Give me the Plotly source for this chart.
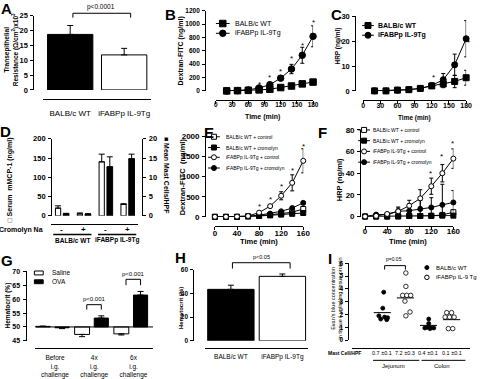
import plotly.graph_objects as go

W, H = 480, 379
FONT = "Liberation Sans, Arial, sans-serif"

# ---------------- data ----------------
# A
A_groups = ["BALB/c WT", "iFABPp IL-9Tg"]
A_values = [18.7, 11.8]
A_errors = [3.0, 2.2]

# B
B_time = [20, 40, 60, 80, 100, 120, 140, 160, 180]
B_wt = [0, 3, 8, 15, 25, 50, 73, 105, 132]
B_wt_err = [0, 0, 0, 0, 4, 8, 12, 15, 25]
B_tg = [0, 5, 15, 44, 93, 191, 328, 534, 818]
B_tg_err = [0, 0, 4, 8, 20, 25, 70, 120, 157]
B_star_x = [80, 100, 120, 140, 160, 180]
B_star_y = [132, 230, 328, 524, 720, 1063]

# C
C_time = [20, 40, 60, 80, 100, 120, 140, 160, 180]
C_wt = [0, 0, 0.3, 0.5, 1.0, 2.0, 2.8, 3.8, 5.3]
C_wt_err = [0, 0, 0.1, 0.2, 0.3, 0.6, 1.5, 2.5, 3.0]
C_tg = [0, 0, 0.3, 0.5, 1.0, 2.2, 4.5, 10.5, 21.0]
C_tg_err = [0, 0, 0.1, 0.2, 0.3, 0.6, 2.5, 4.3, 7.3]
C_star_x = [123, 163, 184]
C_star_y = [6.2, 11.7, 20.6]

# D
D_ticks = ["-", "+", "-", "+"]
D_mmcp1 = [20, 5, 140, 29.5]
D_mmcp1_err = [6, 2.5, 20, 2]
D_mast = [0.55, 0.45, 12.7, 14.8]
D_mast_err = [0.1, 0.1, 2.6, 1.2]

# E
E_time = [0, 20, 40, 60, 80, 100, 120, 140, 160]
E_wt_ctrl = [0, 0, 0, 10, 25, 45, 80, 115, 195]
E_wt_ctrl_err = [0, 0, 0, 3, 5, 10, 15, 20, 30]
E_wt_crom = [0, 0, 0, 10, 20, 35, 55, 75, 95]
E_wt_crom_err = [0, 0, 0, 3, 5, 8, 10, 12, 15]
E_tg_ctrl = [0, 0, 5, 20, 105, 266, 524, 846, 1394]
E_tg_ctrl_err = [0, 0, 2, 5, 20, 40, 100, 200, 300]
E_tg_crom = [0, 0, 0, 15, 40, 80, 137, 218, 347]
E_tg_crom_err = [0, 0, 0, 5, 10, 15, 20, 30, 40]
E_star_x = [80, 100, 120, 140, 160]
E_star_y = [322, 500, 806, 1209, 1813]

# F
F_time = [0, 20, 40, 60, 80, 100, 120, 140, 160]
F_wt_ctrl = [0, 0, 0, 0, 0.5, 0.5, 0.5, 1.5, 4.0]
F_wt_ctrl_err = [0, 0, 0, 0, 0.3, 0.3, 0.5, 2.0, 2.5]
F_wt_crom = [0, 0, 0, 0.3, 0.5, 0.5, 0.8, 0.8, 0.8]
F_wt_crom_err = [0, 0, 0, 0.2, 0.3, 0.3, 0.4, 0.4, 0.4]
F_tg_ctrl = [0, 0.6, 2.4, 4.8, 10.0, 16.8, 28.0, 40.0, 53.5]
F_tg_ctrl_err = [0, 0.3, 1.0, 3.0, 5.0, 8.0, 7.5, 8.0, 9.0]
F_tg_crom = [0, 1.8, 1.8, 4.8, 5.4, 6.9, 8.4, 10.8, 13.0]
F_tg_crom_err = [0, 0.5, 1.0, 4.0, 6.0, 8.0, 9.0, 19.0, 11.0]
F_star_x = [118.5, 138, 159]
F_star_y = [41.5, 58, 70]

# G
G_groups = ["Before<br>i.g.<br>challenge", "4x<br>i.g.<br>challenge", "6x<br>i.g.<br>challenge"]
G_saline = [50.2, 47.3, 47.5]
G_saline_err = [0.1, 0.8, 0.4]
G_ova = [49.7, 53.2, 61.5]
G_ova_err = [0.3, 0.8, 1.3]
G_base = 50

# H
H_groups = ["BALB/c WT", "iFABPp IL-9Tg"]
H_values = [43.5, 54.5]
H_errors = [3.5, 2.0]

# I
I_mast_labels = ["0.7 \u00b10.1", "7.2 \u00b10.3", "0.4 \u00b10.1", "0.1 \u00b10.1"]
I_wt_jej = [3.75, 2.5, 1.9, 1.8, 1.75, 1.65, 1.6]
I_wt_jej_dx = [0.06, 0.02, -0.15, 0.1, 0.23, -0.07, 0.19]
I_tg_jej = [5.25, 4.2, 3.5, 3.5, 3.5, 3.05, 2.2, 1.9]
I_tg_jej_dx = [0.02, 0.02, -0.12, 0.06, 0.23, -0.02, 0.2, 0.02]
I_wt_col = [1.65, 1.3, 1.0, 0.95, 0.95, 0.95, 0.9]
I_wt_col_dx = [0.01, 0.01, -0.07, 0.1, 0.23, -0.16, 0.06]
I_tg_col = [2.15, 2.15, 1.8, 1.8, 1.8, 0.9, 0.9]
I_tg_col_dx = [-0.21, 0.0, -0.28, -0.09, 0.11, -0.14, 0.05]
I_medians = [2.15, 3.3, 1.15, 1.6]

# ---------------- geometry (pixels) ----------------
GEO = {
    'A': dict(xn=1, yn=1, x=(42, 152), xr=(-0.5, 1.5), y=(88, 12), yr=(0, 25), yx=32, xl=97, so=7),
    'B': dict(xn=2, yn=2, x=(218, 317), xr=(0, 180), y=(89, 7), yr=(0, 1200), yx=207, xl=98, so=-4),
    'C': dict(xn=3, yn=3, x=(368, 473), xr=(0, 180), y=(89, 12.7), yr=(0, 30), yx=360, xl=98, so=-4),
    'D': dict(xn=4, yn=4, x=(50, 139), xr=(-0.5, 3.5), y=(217, 138), yr=(0, 200), yx=50, xl=225, so=0),
    'E': dict(xn=5, yn=6, x=(217, 307), xr=(0, 160), y=(218, 135.7), yr=(0, 2000), yx=207, xl=227, so=-3),
    'F': dict(xn=6, yn=7, x=(370, 460), xr=(0, 160), y=(217.7, 129), yr=(0, 80), yx=365, xl=227, so=-5),
    'G': dict(xn=7, yn=8, x=(34, 154), xr=(-0.5, 2.5), y=(345, 274), yr=(45, 70), yx=24, xl=352, so=4),
    'H': dict(xn=8, yn=9, x=(207, 312), xr=(-0.5, 1.5), y=(345, 272.3), yr=(0, 60), yx=195, xl=352, so=3),
    'I': dict(xn=9, yn=10, x=(357, 477), xr=(-1.3, 3.8), y=(344.3, 265.7), yr=(0, 6), yx=353, xl=352, so=0),
}


def PX(x):
    return x / W


def PY(y):
    return 1 - y / H


def mapx(p, v):
    g = GEO[p]
    return g['x'][0] + (v - g['xr'][0]) / (g['xr'][1] - g['xr'][0]) * (g['x'][1] - g['x'][0])


def mapy(p, v):
    g = GEO[p]
    return g['y'][0] - (v - g['yr'][0]) / (g['yr'][1] - g['yr'][0]) * (g['y'][0] - g['y'][1])


def aname(kind, n):
    return kind + 'axis' + ('' if n == 1 else str(n))


def ref(kind, n):
    return kind + ('' if n == 1 else str(n))


layout = {}
annotations = []
shapes = []
traces = []


def tfont(size, bold=False):
    return dict(family=FONT, size=size, color='black', weight='bold' if bold else 'normal')


def set_axes(p, xsize=7, ysize=7, ydtick=None, xdtick=None, xticks='outside', xbold=True, **xkw):
    g = GEO[p]
    layout[aname('y', g['yn'])] = dict(
        domain=[PY(g['y'][0]), PY(g['y'][1])], range=list(g['yr']), anchor='free', position=PX(g['yx']),
        showline=True, linecolor='black', linewidth=1, ticks='outside', ticklen=3, tickwidth=1,
        tickcolor='black', showgrid=False, zeroline=False, tickfont=tfont(ysize, True), dtick=ydtick,
        tick0=g['yr'][0], fixedrange=True, ticklabelstandoff=1)
    xd = dict(
        domain=[PX(g['x'][0]), PX(g['x'][1])], range=list(g['xr']), anchor='free', position=PY(g['xl']),
        showline=True, linecolor='black', linewidth=1, ticks=xticks, ticklen=3, tickwidth=1,
        tickcolor='black', showgrid=False, zeroline=False, tickfont=tfont(xsize, xbold), fixedrange=True,
        ticklabelstandoff=g['so'])
    if xdtick is not None:
        xd['dtick'] = xdtick
        xd['tick0'] = 0
    xd.update(xkw)
    layout[aname('x', g['xn'])] = xd


def txt(x, y, s, size=7, angle=0, xanchor='center', bold=False):
    annotations.append(dict(x=PX(x), y=PY(y), xref='paper', yref='paper', text=s, showarrow=False,
                            font=tfont(size, bold), textangle=angle, xanchor=xanchor, yanchor='middle',
                            borderpad=0))


def seg(x0, y0, x1, y1, w=1):
    shapes.append(dict(type='line', xref='paper', yref='paper', x0=PX(x0), y0=PY(y0), x1=PX(x1), y1=PY(y1),
                       line=dict(color='black', width=w)))


def bracket(x0, x1, ytop, yleg):
    shapes.append(dict(type='path', xref='paper', yref='paper',
                       path=f"M {PX(x0)},{PY(yleg)} L {PX(x0)},{PY(ytop)} L {PX(x1)},{PY(ytop)} L {PX(x1)},{PY(yleg)}",
                       line=dict(color='black', width=1)))


def star(p, xv, yv, size=8):
    txt(mapx(p, xv), mapy(p, yv) + 0.3 * size, '*', size)


def on(p, second_y=None):
    g = GEO[p]
    return dict(xaxis=ref('x', g['xn']), yaxis=ref('y', second_y or g['yn']))


def series(p, x, y, err, symbol, filled, size=6):
    traces.append(go.Scatter(
        x=x, y=y, mode='lines+markers', cliponaxis=False,
        marker=dict(symbol=symbol, size=size, color='black' if filled else 'white',
                    line=dict(color='black', width=1)),
        line=dict(color='black', width=1),
        error_y=dict(type='data', array=err, color='black', thickness=1, width=2),
        **on(p)))


# legend sample canvas (pixel overlay)
LX, LY = 10, 11


def leg_sample(x0, x1, y, symbol, filled, size=6, line=True):
    xm = (x0 + x1) / 2
    if line:
        traces.append(go.Scatter(x=[x0, x1], y=[y, y], mode='lines', line=dict(color='black', width=1),
                                 xaxis=ref('x', LX), yaxis=ref('y', LY)))
    traces.append(go.Scatter(x=[xm], y=[y], mode='markers',
                             marker=dict(symbol=symbol, size=size, color='black' if filled else 'white',
                                         line=dict(color='black', width=1)),
                             xaxis=ref('x', LX), yaxis=ref('y', LY)))


def bars(p, x, y, err_plus, err_minus, fill, offset, width, base=None, second_y=None):
    traces.append(go.Bar(
        x=x, y=y, base=base, offset=offset, width=width,
        marker=dict(color=fill, line=dict(color='black', width=1)),
        error_y=dict(type='data', symmetric=False, array=err_plus, arrayminus=err_minus,
                     color='black', thickness=1, width=3),
        **on(p, second_y)))


zeros = lambda n: [0] * n

# ---------------- panel A ----------------
set_axes('A', xsize=8, ysize=7.5, ydtick=5, xticks='', xbold=False, tickvals=[0, 1], ticktext=A_groups)
bars('A', [0, 1], A_values, A_errors, zeros(2), ['black', 'white'], -0.42, 0.84)
bracket(mapx('A', 0.05), mapx('A', 1.12), 9.5, 14)
txt(mapx('A', 0.58), 3.5, 'p<0.0001', 6.5)
txt(9.5, 47, 'Transepithelial<br>Resistance (\u03a9/cm<sup>2</sup>)x10<sup>3</sup>', 6.5, -90, bold=True)
txt(5, 5, 'A', 15, bold=True)

# ---------------- panel B ----------------
set_axes('B', xsize=6.5, ysize=6.5, ydtick=200, xdtick=30)
series('B', B_time, B_wt, B_wt_err, 'square', True, 6.5)
series('B', B_time, B_tg, B_tg_err, 'circle', True, 6.5)
for xs, ys in zip(B_star_x, B_star_y):
    star('B', xs, ys)
txt(182, 48, 'Dextran-FITC (ng/ml)', 7, -90, bold=True)
txt(265, 116, 'Time (min)', 7, bold=True)
leg_sample(218, 232, 20, 'square', True, 6.5)
leg_sample(218, 232, 30, 'circle', True, 6.5)
txt(236, 20, 'BALB/c WT', 7, xanchor='left')
txt(236, 30, 'iFABPp IL-9Tg', 7, xanchor='left')
txt(172, 11, 'B', 15, bold=True)

# ---------------- panel C ----------------
set_axes('C', xsize=7, ysize=7.5, ydtick=10, xdtick=30)
series('C', C_time, C_wt, C_wt_err, 'square', True)
series('C', C_time, C_tg, C_tg_err, 'circle', True)
for xs, ys in zip(C_star_x, C_star_y):
    star('C', xs, ys)
txt(342, 43, 'HRP (ng/ml)', 6.5, -90, bold=True)
txt(420, 117, 'Time (min)', 6.5, bold=True)
leg_sample(367, 379, 22, 'square', True)
leg_sample(367, 379, 32, 'circle', True)
txt(382, 22, 'BALB/c WT', 7, xanchor='left', bold=True)
txt(382, 32, 'iFABPp IL-9Tg', 7, xanchor='left', bold=True)
txt(341, 11, 'C', 15, bold=True)

# ---------------- panel D ----------------
set_axes('D', xsize=8, ysize=7.5, ydtick=50, xticks='', tickvals=[])
layout['yaxis5'] = dict(overlaying='y4', side='right', anchor='free', position=PX(143), range=[0, 20],
                        dtick=5, showline=True, linecolor='black', linewidth=1, ticks='outside', ticklen=3,
                        tickcolor='black', showgrid=False, zeroline=False, tickfont=tfont(7.5, True),
                        fixedrange=True, ticklabelstandoff=1)
bars('D', [0, 1, 2, 3], D_mmcp1, D_mmcp1_err, zeros(4), 'white', -0.3, 0.24)
bars('D', [0, 1, 2, 3], D_mast, D_mast_err, zeros(4), 'black', 0.06, 0.26, second_y=5)
for c, lab in enumerate(D_ticks):
    txt(mapx('D', c), 231, lab, 8, bold=True)
txt(43, 231, 'Cromolyn Na', 7, xanchor='right', bold=True)
seg(mapx('D', -0.4), 236, mapx('D', 1.35), 236, 1.5)
seg(mapx('D', 1.65), 236, mapx('D', 3.4), 236, 1.5)
txt(mapx('D', 0.5), 242, 'BALB/c WT', 6.5, bold=True)
txt(mapx('D', 2.5), 242, 'iFABPp IL-9Tg', 6.5, bold=True)
txt(8, 180, '\u25a1 Serum  mMCP-1 (ng/ml)', 7, -90, bold=True)
txt(167, 176, '\u25a0 Mean Mast Cells/HPF', 7, 90, bold=True)
txt(4, 131, 'D', 15, bold=True)

# ---------------- panel E ----------------
set_axes('E', xsize=8, ysize=8, ydtick=500, xdtick=40)
series('E', E_time, E_wt_ctrl, E_wt_ctrl_err, 'square', False, 5)
series('E', E_time, E_wt_crom, E_wt_crom_err, 'square', True, 5)
series('E', E_time, E_tg_crom, E_tg_crom_err, 'circle', True, 5)
series('E', E_time, E_tg_ctrl, E_tg_ctrl_err, 'circle', False, 5)
for xs, ys in zip(E_star_x, E_star_y):
    star('E', xs, ys)
txt(184, 177, 'Dextran-FITC  (ng/ml)', 7.5, -90, bold=True)
txt(262, 243, 'Time (min)', 7.5, bold=True)
E_leg = [('BALB/c WT + control', 'square', False), ('BALB/c WT + cromolyn', 'square', True),
         ('iFABPp IL-9Tg + control', 'circle', False), ('iFABPp IL-9Tg + cromolyn', 'circle', True)]
for (lab, sym, fil), yy in zip(E_leg, [136, 147, 157, 168]):
    leg_sample(210, 222, yy, sym, fil, 5)
    txt(227, yy, lab, 5, xanchor='left')
txt(211, 132, 'E', 15, bold=True)

# ---------------- panel F ----------------
set_axes('F', xsize=8, ysize=8, ydtick=20, xdtick=40)
series('F', F_time, F_wt_ctrl, F_wt_ctrl_err, 'square', False, 5)
series('F', F_time, F_wt_crom, F_wt_crom_err, 'square', True, 5)
series('F', F_time, F_tg_crom, F_tg_crom_err, 'circle', True, 5)
series('F', F_time, F_tg_ctrl, F_tg_ctrl_err, 'circle', False, 5)
for xs, ys in zip(F_star_x, F_star_y):
    star('F', xs, ys)
txt(344, 180, 'HRP (ng/ml)', 7.5, -90, bold=True)
txt(414, 243, 'Time (min)', 7.5, bold=True)
for (lab, sym, fil), yy in zip(E_leg, [129, 140, 151, 162]):
    leg_sample(363, 375, yy, sym, fil, 5)
    txt(377, yy, lab, 5, xanchor='left')
txt(327, 132, 'F', 15, bold=True)

# ---------------- panel G ----------------
set_axes('G', xsize=6.5, ysize=7, ydtick=5, xticks='', xbold=False, tickvals=[0, 1, 2], ticktext=G_groups)
sal_rel = [v - G_base for v in G_saline]
ova_rel = [v - G_base for v in G_ova]
bars('G', [0, 1, 2], sal_rel, [e if r >= 0 else 0 for e, r in zip(G_saline_err, sal_rel)],
     [e if r < 0 else 0 for e, r in zip(G_saline_err, sal_rel)], 'white', -0.5, 0.38, base=G_base)
bars('G', [0, 1, 2], ova_rel, [e if r >= 0 else 0 for e, r in zip(G_ova_err, ova_rel)],
     [e if r < 0 else 0 for e, r in zip(G_ova_err, ova_rel)], 'black', 0.0, 0.36, base=G_base)
traces.append(go.Scatter(x=list(GEO['G']['xr']), y=[G_base, G_base], mode='lines',
                         line=dict(color='black', width=1), **on('G')))
bracket(mapx('G', 0.81), mapx('G', 1.18), 308, 313)
txt(mapx('G', 1.0), 302, 'p<0.001', 6)
bracket(mapx('G', 1.81), mapx('G', 2.18), 282, 288)
txt(mapx('G', 2.0), 277, 'p<0.001', 6)
shapes.append(dict(type='rect', xref='paper', yref='paper', x0=PX(33), x1=PX(42), y0=PY(277.5), y1=PY(273.5),
                   line=dict(color='black', width=1), fillcolor='white'))
shapes.append(dict(type='rect', xref='paper', yref='paper', x0=PX(33), x1=PX(42), y0=PY(286.5), y1=PY(282.5),
                   line=dict(color='black', width=1), fillcolor='black'))
txt(50, 275.5, 'Saline', 6.5, xanchor='left')
txt(50, 284.5, 'OVA', 6.5, xanchor='left')
txt(6, 309, 'Hematocrit (%)', 6.5, -90, bold=True)
txt(5, 263, 'G', 15, bold=True)

# ---------------- panel H ----------------
set_axes('H', xsize=6.5, ysize=6.5, ydtick=20, xticks='', xbold=False, tickvals=[0, 1], ticktext=H_groups)
bars('H', [0, 1], H_values, H_errors, zeros(2), ['black', 'white'], -0.45, 0.9)
bracket(mapx('H', 0.03), mapx('H', 1.15), 265, 271)
txt(mapx('H', 0.6), 259, 'p<0.05', 5.5)
txt(182, 312, 'Hematocrit (%)', 6, -90, bold=True)
txt(182, 260, 'H', 15, bold=True)

# ---------------- panel I ----------------
set_axes('I', xsize=6, ysize=6.5, ydtick=1, xticks='', tickvals=[])
I_cols = [(I_wt_jej, I_wt_jej_dx, True), (I_tg_jej, I_tg_jej_dx, False),
          (I_wt_col, I_wt_col_dx, True), (I_tg_col, I_tg_col_dx, False)]
for c, (vals, dxs, fil) in enumerate(I_cols):
    traces.append(go.Scatter(x=[c + d for d in dxs], y=vals, mode='markers', cliponaxis=False,
                             marker=dict(symbol='circle', size=4 if fil else 4.5,
                                         color='black' if fil else 'white',
                                         line=dict(color='black', width=0.8)), **on('I')))
    traces.append(go.Scatter(x=[c - 0.37, c + 0.37], y=[I_medians[c]] * 2, mode='lines',
                             line=dict(color='black', width=1), **on('I')))
bracket(mapx('I', 0.1), mapx('I', 1.0), 268, 272)
txt(mapx('I', 0.5), 261, 'p=0.05', 5)
txt(349, 358, 'Mast Cell/HPF', 5, bold=True)
for c, lab in enumerate(I_mast_labels):
    txt(mapx('I', c), 358, lab, 5.5)
seg(mapx('I', -0.4), 365, mapx('I', 1.6), 365, 1)
seg(mapx('I', 1.7), 365, mapx('I', 3.6), 365, 1)
txt(mapx('I', 0.5), 371, 'Jejunum', 6)
txt(mapx('I', 2.6), 371, 'Colon', 6)
leg_sample(430, 436, 270, 'circle', True, 4, line=False)
leg_sample(430, 436, 280, 'circle', False, 4.5, line=False)
txt(441, 270, 'BALB/c WT', 6, xanchor='left')
txt(441, 280, 'iFABPp IL-9 Tg', 6, xanchor='left')
txt(341, 302, "Evan's blue concentration<br>in tissue ( \u00b5g/ml/mg tissue protein", 5.5, -90)
txt(334.5, 261, 'I', 15, bold=True)

# ---------------- overlay canvas ----------------
layout[aname('x', LX)] = dict(domain=[0, 1], range=[0, W], anchor=ref('y', LY), visible=False, fixedrange=True)
layout[aname('y', LY)] = dict(domain=[0, 1], range=[H, 0], anchor=ref('x', LX), visible=False, fixedrange=True)

fig = go.Figure(data=traces)
fig.update_layout(width=W, height=H, margin=dict(l=0, r=0, t=0, b=0), paper_bgcolor='white',
                  plot_bgcolor='rgba(0,0,0,0)', showlegend=False, annotations=annotations, shapes=shapes,
                  font=dict(family=FONT, color='black'), **layout)
fig.write_html("out.html", config={'displayModeBar': False},
               post_script="document.body.style.margin='0px';document.body.style.overflow='hidden';")
